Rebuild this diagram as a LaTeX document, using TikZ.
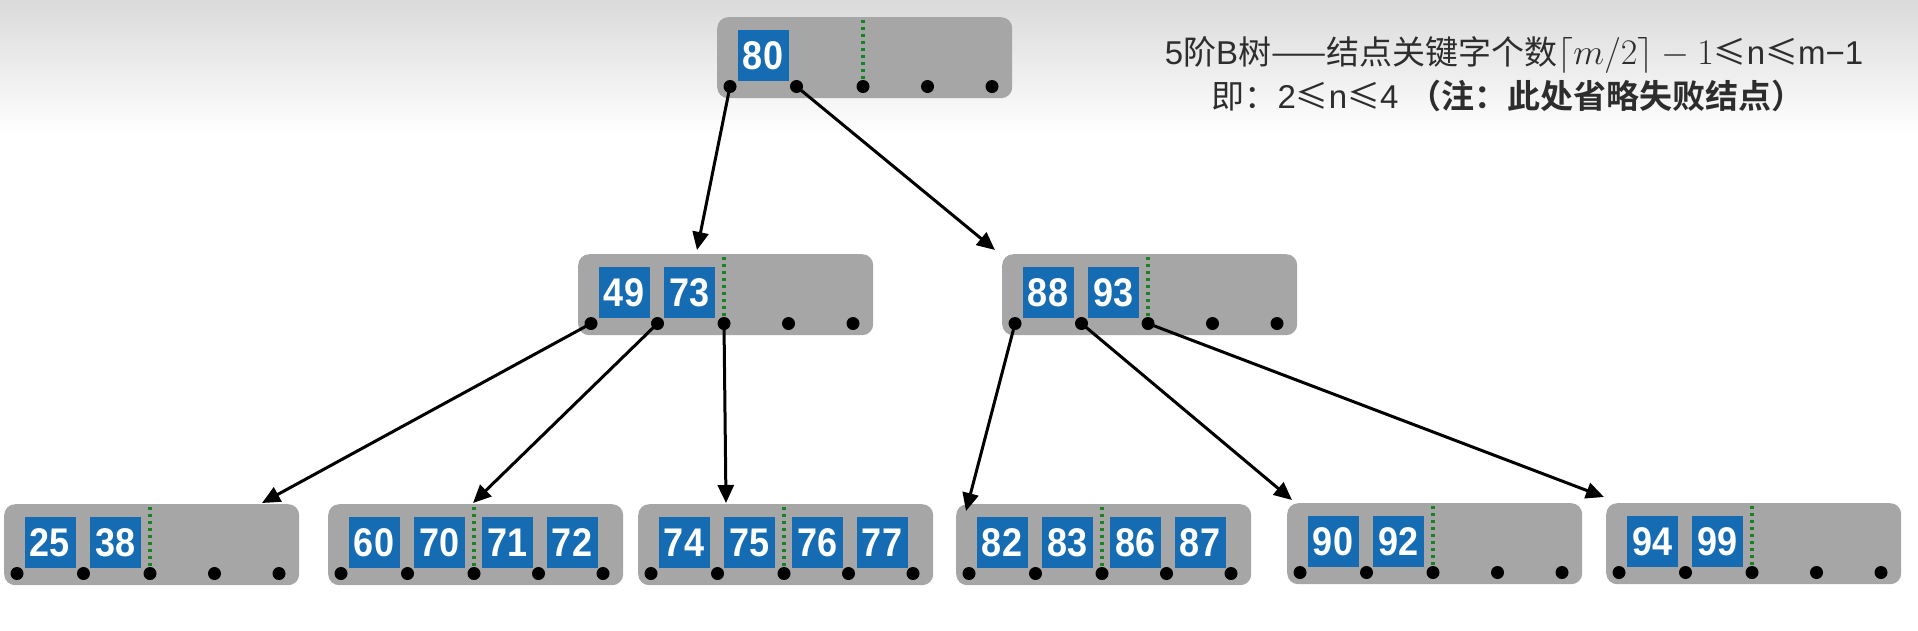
\RequirePackage{fix-cm}
\documentclass[tikz,border=0pt]{standalone}
\usepackage{fontspec}
\setmainfont{Noto Sans CJK SC}[BoldFont={* Bold}]
\newfontfamily\lat{Liberation Sans}
\newfontfamily\keyf{Liberation Sans}[FakeStretch=0.9]
\usetikzlibrary{arrows.meta,calc}
\definecolor{boxgray}{RGB}{166,166,166}
\definecolor{keyblue}{RGB}{22,108,178}
\definecolor{dotgreen}{RGB}{24,130,36}
\definecolor{txt}{RGB}{45,45,45}
\definecolor{bgtop}{RGB}{218,218,218}
\tikzset{
 bbox/.style={fill=boxgray, rounded corners=11pt, minimum width=295pt, minimum height=81pt, inner sep=0pt, draw=none, anchor=north west},
 bkey/.style={fill=keyblue, text=white, minimum size=51pt, inner sep=0pt, font=\keyf\bfseries\fontsize{40}{40}\selectfont},
 bdot/.style={circle, fill=black, minimum size=13pt, inner sep=0pt},
 gline/.style={dotgreen, line width=3.5pt, dash pattern=on 3pt off 4pt},
 link/.style={black, line width=3pt, -{Triangle[length=18pt,width=16pt]}},
 note/.style={text=txt, font=\fontsize{33}{33}\selectfont, inner sep=0pt},
}
\newcommand{\bnode}[4]{%
 \node[bbox] (#1) at (#2,#3) {};
 \draw[gline] ($(#1.north west)+(146,3)$) -- ($(#1.north west)+(146,69.5)$);
 \foreach \dx [count=\i from 0] in {13,79.5,146,210.5,275}
   \node[bdot] (#1-d\i) at ($(#1.north west)+(\dx,69.5)$) {};
 \foreach \k [count=\i] in {#4} {
   \pgfmathsetmacro{\kx}{{46,111.5,179.5,244}[\i-1]}
   \node[bkey] (#1-k\i) at ($(#1.north west)+(\kx,38.5)$) {\k};
 }
}
\begin{document}
\begin{tikzpicture}[x=1pt,y=-1pt]
\useasboundingbox (0,0) rectangle (1918,630);
\fill[white] (0,0) rectangle (1918,630);
\shade[top color=bgtop, bottom color=white] (0,0) rectangle (1918,135);

\bnode{root}{717}{17}{80}
\bnode{ml}{578}{254}{49,73}
\bnode{mr}{1002}{254}{88,93}
\bnode{la}{4}{504}{25,38}
\bnode{lb}{328}{504}{60,70,71,72}
\bnode{lc}{638}{504}{74,75,76,77}
\bnode{ld}{956}{504}{82,83,86,87}
\bnode{le}{1287}{503}{90,92}
\bnode{lf}{1606}{503}{94,99}

\coordinate (ml-in) at (697,250);
\coordinate (mr-in) at (995,250);
\coordinate (la-in) at (262,503);
\coordinate (lb-in) at (473,503);
\coordinate (lc-in) at (726,503);
\coordinate (ld-in) at (966,511);
\coordinate (le-in) at (1292,500);
\coordinate (lf-in) at (1604,497);

\draw[link] (root-d0.center) -- (ml-in);
\draw[link] (root-d1.center) -- (mr-in);
\draw[link] (ml-d0.center) -- (la-in);
\draw[link] (ml-d1.center) -- (lb-in);
\draw[link] (ml-d2.center) -- (lc-in);
\draw[link] (mr-d0.center) -- (ld-in);
\draw[link] (mr-d1.center) -- (le-in);
\draw[link] (mr-d2.center) -- (lf-in);

\node[note] (line1) at (1514,55) {{\lat 5}阶{\lat B}树——结点关键字个数{\fontsize{36}{36}\selectfont$\lceil m/2\rceil - 1$}≤{\lat n}≤{\lat m−1}};
\node[note] (line2) at (1508,96) {即：{\lat 2}≤{\lat n}≤{\lat 4}\hspace{0.3em}{\bfseries （注：此处省略失败结点）}};
\end{tikzpicture}
\end{document}
